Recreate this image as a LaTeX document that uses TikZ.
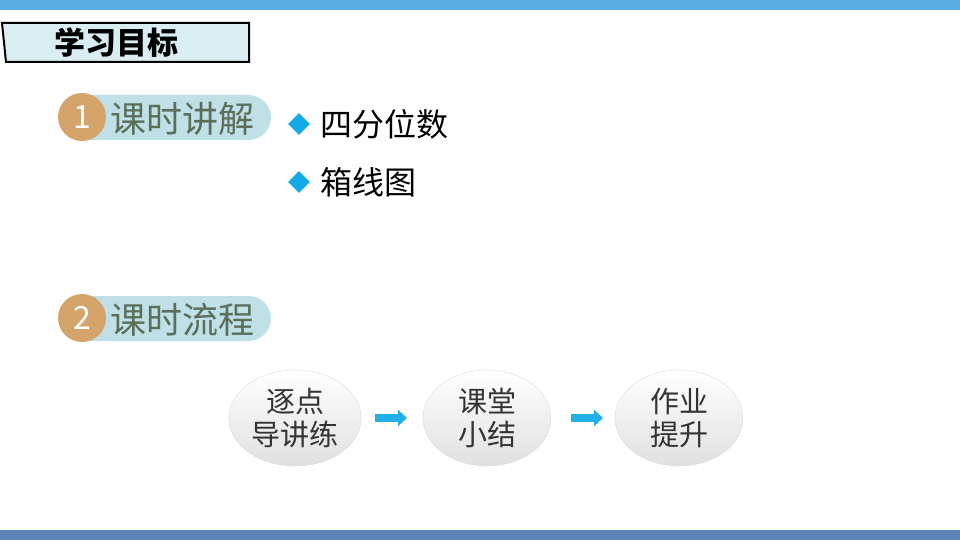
\documentclass[tikz,border=0pt]{standalone}
\usepackage{fontspec}
\setmainfont{Noto Sans CJK SC}
\usetikzlibrary{shapes.geometric,arrows.meta}
\definecolor{topblue}{HTML}{5AAEE6}
\definecolor{barblue}{HTML}{5B84B8}
\definecolor{titlefill}{HTML}{D9EEF3}
\definecolor{badgetan}{HTML}{D4A46A}
\definecolor{pillblue}{HTML}{BFE0E6}
\definecolor{pilltext}{HTML}{5A6E58}
\definecolor{bulletcyan}{HTML}{12A9E6}
\definecolor{arrowcyan}{HTML}{22AEE6}
\tikzset{
  badge/.style={circle,fill=badgetan,minimum size=48pt,inner sep=0pt,text=white,font=\fontsize{32}{32}\selectfont},
  pilltext/.style={text=pilltext,font=\fontsize{36}{36}\selectfont,anchor=west,inner sep=0pt},
  bullet/.style={diamond,fill=bulletcyan,minimum size=22pt,inner sep=0pt},
  itemtext/.style={anchor=west,font=\fontsize{32}{32}\selectfont,inner sep=0pt},
  stage/.style={ellipse,minimum width=128pt,minimum height=96pt,draw=black!15,
    top color=white,bottom color=black!12,align=center,
    font=\fontsize{29}{33}\selectfont,text=black!80},
  flow/.style={-{Triangle[length=9pt,width=16pt]},line width=8pt,arrowcyan}
}
\begin{document}
\begin{tikzpicture}[x=1pt,y=-1pt]
\useasboundingbox (0,0) rectangle (960,540);
% bands
\fill[topblue] (0,0) rectangle (960,10);
\fill[barblue] (0,530) rectangle (960,540);
% title
\draw[line width=2pt,fill=titlefill] (2,23) -- (249,23) -- (249,62) -- (6,62) -- cycle;
\node[font=\bfseries\fontsize{31}{31}\selectfont] (title) at (116,43) {学习目标};
% section 1
\fill[pillblue,rounded corners=22.5pt] (70,95) rectangle (271,140);
\node[badge] (b1) at (82,117) {1};
\node[pilltext] (s1) at (110,119) {课时讲解};
\node[bullet] (d1) at (299,124) {};
\node[itemtext] (i1) at (320,124) {四分位数};
\node[bullet] (d2) at (299,182) {};
\node[itemtext] (i2) at (320,182) {箱线图};
% section 2
\fill[pillblue,rounded corners=22.5pt] (70,296) rectangle (271,341);
\node[badge] (b2) at (82,318) {2};
\node[pilltext] (s2) at (110,320) {课时流程};
% flow
\node[stage] (e1) at (295,418) {逐点\\导讲练};
\node[stage] (e2) at (487,418) {课堂\\小结};
\node[stage] (e3) at (679,418) {作业\\提升};
\coordinate (a1) at (375,418); \coordinate (a1e) at (407,418);
\coordinate (a2) at (571,418); \coordinate (a2e) at (603,418);
\draw[flow] (a1) -- (a1e);
\draw[flow] (a2) -- (a2e);
\end{tikzpicture}
\end{document}
